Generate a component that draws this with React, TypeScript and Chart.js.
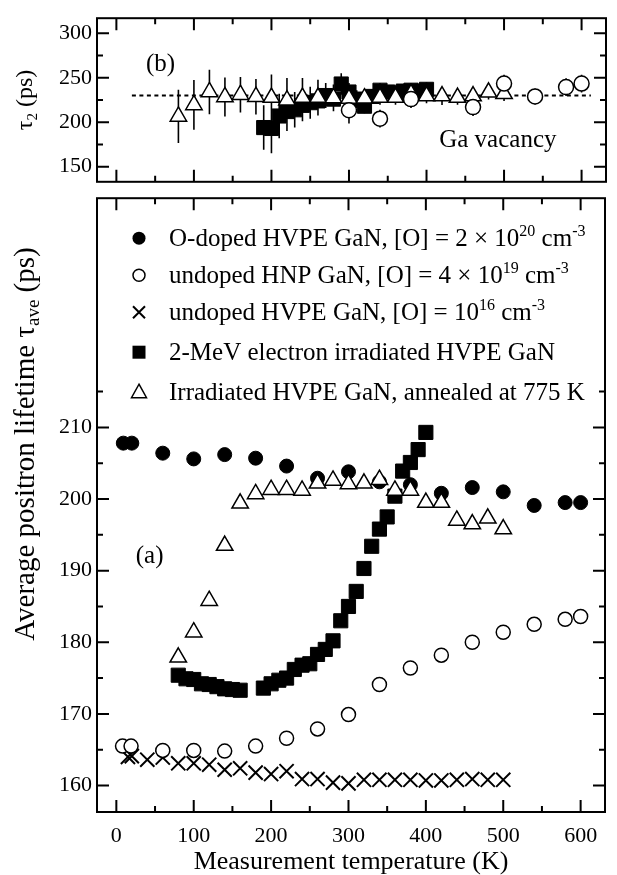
import { useEffect, useRef } from 'react';
import { Chart, registerables } from 'chart.js';

Chart.register(...registerables);

const SERIF = '"Liberation Serif", "Times New Roman", Times, serif';

// ---------- axes ----------
const X_MIN = -25;
const X_MAX = 631.5;
const X_MAJOR = [0, 100, 200, 300, 400, 500, 600];
const X_MINOR = [50, 150, 250, 350, 450, 550];

const TOP_Y_MIN = 133;
const TOP_Y_MAX = 317;
const TOP_Y_MAJOR = [150, 200, 250, 300];
const TOP_Y_MINOR = [175, 225, 275];

const BOT_Y_MIN = 156.3;
const BOT_Y_MAX = 242;
const BOT_Y_MAJOR = [160, 170, 180, 190, 200, 210];
const BOT_Y_MINOR = [165, 175, 185, 195, 205, 215];

// ---------- panel (b): tau2 ----------
const tau2TriT = [80, 100, 120, 140, 160, 180, 200, 220, 240, 260, 280, 300, 320, 340, 360, 380, 400, 420, 440, 460, 480, 500];
const tau2TriV = [206.5, 219.5, 234, 228.4, 231, 228.7, 227.7, 224.8, 227.7, 227.7, 227.3, 226.6, 227, 227.7, 227.7, 231.9, 229.4, 229.4, 227.7, 229.4, 233.7, 232];
const tau2TriE = [30, 28, 25, 22, 20, 20, 26, 25, 22, 20, 15, 12, 10, 8, 8, 8, 8, 10, 8, 8, 8, 8];

const tau2SqT = [190, 200, 210, 220, 230, 240, 250, 260, 270, 280, 290, 300, 310, 320, 330, 340, 350, 360, 370, 380, 390, 400];
const tau2SqV = [194, 193, 207, 212, 214, 219, 222, 224, 230, 226, 243, 234, 226, 218, 229, 236, 234, 233, 235, 236, 235, 237];
const tau2SqE = [25, 28, 25, 22, 20, 18, 18, 15, 14, 12, 12, 10, 10, 8, 8, 8, 8, 8, 8, 8, 8, 8];

const tau2CircT = [300, 340, 380, 460, 500, 540, 580, 600];
const tau2CircV = [213.5, 204, 226, 217, 243.5, 229, 239.5, 243.5];
const tau2CircE = [15, 10, 10, 10, 10, 9, 10, 10];

const GA_VACANCY = 230;
const GA_LINE_T = [20, 612];

// ---------- panel (a): tau_ave ----------
const oDopedT = [9, 20, 60, 100, 140, 180, 220, 260, 300, 340, 380, 420, 460, 500, 540, 580, 600];
const oDopedV = [207.8, 207.8, 206.4, 205.6, 206.2, 205.7, 204.6, 202.9, 203.8, 202.4, 202.0, 200.8, 201.6, 201.0, 199.1, 199.5, 199.5];

const hnpT = [8, 19, 60, 100, 140, 180, 220, 260, 300, 340, 380, 420, 460, 500, 540, 580, 600];
const hnpV = [165.5, 165.5, 164.9, 164.9, 164.8, 165.5, 166.6, 167.9, 169.9, 174.1, 176.4, 178.2, 180.0, 181.4, 182.5, 183.2, 183.6];

const hvpeT = [15, 20, 40, 60, 80, 100, 120, 140, 160, 180, 200, 220, 240, 260, 280, 300, 320, 340, 360, 380, 400, 420, 440, 460, 480, 500];
const hvpeV = [164.0, 164.1, 163.6, 163.9, 163.1, 163.1, 162.9, 162.2, 162.4, 161.8, 161.6, 162.0, 160.9, 160.9, 160.4, 160.3, 160.8, 160.8, 160.8, 160.8, 160.7, 160.7, 160.8, 160.9, 160.8, 160.8];

const irrT = [80, 90, 100, 110, 120, 130, 140, 150, 160, 190, 200, 210, 220, 230, 240, 250, 260, 270, 280, 290, 300, 310, 320, 330, 340, 350, 360, 370, 380, 390, 400];
const irrV = [175.4, 174.9, 174.8, 174.2, 174.1, 173.8, 173.5, 173.4, 173.3, 173.6, 174.2, 174.7, 175.0, 176.2, 176.8, 177.0, 178.3, 179.0, 180.2, 183.0, 185.0, 187.1, 190.3, 193.4, 195.8, 197.5, 200.4, 203.9, 205.1, 206.9, 209.3];

const annT = [80, 100, 120, 140, 160, 180, 200, 220, 240, 260, 280, 300, 320, 340, 360, 380, 400, 420, 440, 460, 480, 500];
const annV = [177.9, 181.4, 185.8, 193.5, 199.4, 200.7, 201.3, 201.3, 201.2, 202.2, 202.6, 202.1, 202.2, 202.7, 201.2, 201.2, 199.5, 199.5, 197.0, 196.5, 197.3, 195.8];

// ---------- texts ----------
type Piece = { t: string; s?: 'sup' | 'sub' };

const LEGEND_ITEMS: { marker: string; pieces: Piece[] }[] = [
  { marker: 'filledCircle', pieces: [{ t: 'O-doped HVPE GaN, [O] = 2 \u00d7 10' }, { t: '20', s: 'sup' }, { t: ' cm' }, { t: '-3', s: 'sup' }] },
  { marker: 'openCircle', pieces: [{ t: 'undoped HNP GaN, [O] = 4 \u00d7 10' }, { t: '19', s: 'sup' }, { t: ' cm' }, { t: '-3', s: 'sup' }] },
  { marker: 'cross', pieces: [{ t: 'undoped HVPE GaN, [O] = 10' }, { t: '16', s: 'sup' }, { t: ' cm' }, { t: '-3', s: 'sup' }] },
  { marker: 'square', pieces: [{ t: '2-MeV electron irradiated HVPE GaN' }] },
  { marker: 'triangle', pieces: [{ t: 'Irradiated HVPE GaN, annealed at 775 K' }] },
];
const LEGEND_ROW_OFFSETS = [40, 77, 114, 154, 194];

const TOP_Y_TITLE: Piece[] = [{ t: '\u03c4' }, { t: '2', s: 'sub' }, { t: ' (ps)' }];
const BOT_Y_TITLE: Piece[] = [{ t: 'Average positron lifetime \u03c4' }, { t: 'ave', s: 'sub' }, { t: ' (ps)' }];
const X_TITLE = 'Measurement temperature (K)';

// ---------- helpers ----------
const pts = (xs: number[], ys: number[]) => xs.map((x, i) => ({ x, y: ys[i] }));

function drawPieces(ctx: CanvasRenderingContext2D, pieces: Piece[], x: number, y: number, size: number, align: 'left' | 'center', rotate = false) {
  ctx.save();
  ctx.translate(x, y);
  if (rotate) ctx.rotate(-Math.PI / 2);
  const main = `${size}px ${SERIF}`;
  const small = `${Math.round(size * 0.64)}px ${SERIF}`;
  let total = 0;
  const widths = pieces.map((p) => {
    ctx.font = p.s ? small : main;
    const w = ctx.measureText(p.t).width;
    total += w;
    return w;
  });
  let cx = align === 'center' ? -total / 2 : 0;
  ctx.fillStyle = '#000';
  ctx.textBaseline = 'alphabetic';
  ctx.textAlign = 'left';
  pieces.forEach((p, i) => {
    ctx.font = p.s ? small : main;
    const dy = p.s === 'sup' ? -size * 0.42 : p.s === 'sub' ? size * 0.2 : 0;
    ctx.fillText(p.t, cx, size * 0.33 + dy);
    cx += widths[i];
  });
  ctx.restore();
}

function drawMarker(ctx: CanvasRenderingContext2D, kind: string, x: number, y: number) {
  ctx.save();
  ctx.strokeStyle = '#000';
  ctx.fillStyle = '#000';
  ctx.lineWidth = 1.5;
  ctx.beginPath();
  if (kind === 'filledCircle') {
    ctx.arc(x, y, 6.5, 0, Math.PI * 2);
    ctx.fill();
  } else if (kind === 'openCircle') {
    ctx.arc(x, y, 6, 0, Math.PI * 2);
    ctx.stroke();
  } else if (kind === 'cross') {
    ctx.lineWidth = 2;
    ctx.moveTo(x - 6, y - 6);
    ctx.lineTo(x + 6, y + 6);
    ctx.moveTo(x + 6, y - 6);
    ctx.lineTo(x - 6, y + 6);
    ctx.stroke();
  } else if (kind === 'square') {
    ctx.fillRect(x - 6.5, y - 6.5, 13, 13);
  } else if (kind === 'triangle') {
    ctx.moveTo(x, y - 8);
    ctx.lineTo(x + 7.5, y + 5.5);
    ctx.lineTo(x - 7.5, y + 5.5);
    ctx.closePath();
    ctx.stroke();
  }
  ctx.restore();
}

function framePlugin(yMajor: number[], yMinor: number[]) {
  return {
    id: 'frameTicks',
    afterDraw(chart: any) {
      const { ctx, chartArea } = chart;
      const { left, right, top, bottom } = chartArea;
      const xs = chart.scales.x;
      const ys = chart.scales.y;
      ctx.save();
      ctx.strokeStyle = '#000';
      ctx.lineWidth = 2;
      ctx.beginPath();
      const vt = (px: number, len: number) => {
        ctx.moveTo(px, top);
        ctx.lineTo(px, top + len);
        ctx.moveTo(px, bottom);
        ctx.lineTo(px, bottom - len);
      };
      X_MAJOR.forEach((v) => vt(xs.getPixelForValue(v), 12));
      X_MINOR.forEach((v) => vt(xs.getPixelForValue(v), 6));
      const ht = (py: number, len: number) => {
        if (py < top - 1 || py > bottom + 1) return;
        ctx.moveTo(left, py);
        ctx.lineTo(left + len, py);
        ctx.moveTo(right, py);
        ctx.lineTo(right - len, py);
      };
      yMajor.forEach((v) => ht(ys.getPixelForValue(v), 12));
      yMinor.forEach((v) => ht(ys.getPixelForValue(v), 6));
      ctx.stroke();
      ctx.strokeRect(left, top, right - left, bottom - top);
      ctx.restore();
    },
  };
}

const errorBarPlugin = {
  id: 'errorBars',
  beforeDatasetsDraw(chart: any) {
    const { ctx } = chart;
    const xs = chart.scales.x;
    const ys = chart.scales.y;
    ctx.save();
    ctx.strokeStyle = '#000';
    ctx.lineWidth = 1.6;
    ctx.beginPath();
    chart.data.datasets.forEach((ds: any) => {
      if (!ds.errors) return;
      ds.data.forEach((p: any, i: number) => {
        const e = ds.errors[i];
        const px = xs.getPixelForValue(p.x);
        ctx.moveTo(px, ys.getPixelForValue(p.y - e));
        ctx.lineTo(px, ys.getPixelForValue(p.y + e));
      });
    });
    ctx.stroke();
    ctx.restore();
  },
};

function textPlugin(id: string, draw: (chart: any) => void) {
  return { id, afterDraw: draw };
}

const fixedY = (ticks: number[]) => ({
  afterBuildTicks: (s: any) => {
    s.ticks = ticks.map((value) => ({ value }));
  },
  afterFit: (s: any) => {
    s.width = 97;
  },
  grid: { display: false, drawTicks: false },
  border: { display: false },
  ticks: { padding: 5, color: '#000', font: { family: SERIF, size: 22 } },
});

export default function App() {
  const topRef = useRef<HTMLCanvasElement>(null);
  const botRef = useRef<HTMLCanvasElement>(null);

  useEffect(() => {
    const open = { backgroundColor: '#fff', borderColor: '#000', borderWidth: 1.5 };
    const filled = { backgroundColor: '#000', borderColor: '#000', borderWidth: 1 };

    const top = new Chart(topRef.current as HTMLCanvasElement, {
      type: 'scatter',
      data: {
        datasets: [
          { label: 'HNP', data: pts(tau2CircT, tau2CircV), errors: tau2CircE, pointStyle: 'circle', radius: 7.5, order: 0, ...open } as any,
          { label: 'annealed', data: pts(tau2TriT, tau2TriV), errors: tau2TriE, pointStyle: 'triangle', radius: 9.5, order: 1, ...open } as any,
          { label: 'irradiated', data: pts(tau2SqT, tau2SqV), errors: tau2SqE, pointStyle: 'rect', radius: 10, order: 2, ...filled } as any,
          {
            label: 'Ga vacancy',
            data: GA_LINE_T.map((x) => ({ x, y: GA_VACANCY })),
            showLine: true,
            borderColor: '#000',
            borderWidth: 2,
            borderDash: [4, 3.5],
            pointRadius: 0,
            order: 3,
          } as any,
        ],
      },
      options: {
        animation: false,
        responsive: false,
        devicePixelRatio: 1,
        layout: { padding: { left: 0, right: 0, top: 14, bottom: 13 } },
        plugins: { legend: { display: false }, tooltip: { enabled: false } },
        scales: {
          x: { type: 'linear', min: X_MIN, max: X_MAX, display: false },
          y: { type: 'linear', min: TOP_Y_MIN, max: TOP_Y_MAX, ...fixedY(TOP_Y_MAJOR) } as any,
        },
      },
      plugins: [
        errorBarPlugin,
        framePlugin(TOP_Y_MAJOR, TOP_Y_MINOR),
        textPlugin('topTexts', (chart) => {
          const { ctx, scales } = chart;
          drawPieces(ctx, TOP_Y_TITLE, 24, 100, 24, 'center', true);
          drawPieces(ctx, [{ t: '(b)' }], scales.x.getPixelForValue(57), scales.y.getPixelForValue(266.5), 25, 'center');
          drawPieces(ctx, [{ t: 'Ga vacancy' }], scales.x.getPixelForValue(492), scales.y.getPixelForValue(181.6), 25, 'center');
        }),
      ],
    } as any);

    const bot = new Chart(botRef.current as HTMLCanvasElement, {
      type: 'scatter',
      data: {
        datasets: [
          { label: 'annealed', data: pts(annT, annV), pointStyle: 'triangle', radius: 9.5, order: 0, ...open } as any,
          { label: 'HNP', data: pts(hnpT, hnpV), pointStyle: 'circle', radius: 7, order: 1, ...open } as any,
          { label: 'HVPE', data: pts(hvpeT, hvpeV), pointStyle: 'crossRot', radius: 10, order: 2, borderColor: '#000', borderWidth: 2 } as any,
          { label: 'O-doped', data: pts(oDopedT, oDopedV), pointStyle: 'circle', radius: 7, order: 3, ...filled } as any,
          { label: 'irradiated', data: pts(irrT, irrV), pointStyle: 'rect', radius: 10, order: 4, ...filled } as any,
        ],
      },
      options: {
        animation: false,
        responsive: false,
        devicePixelRatio: 1,
        layout: { padding: { left: 0, right: 0, top: 7, bottom: 0 } },
        plugins: { legend: { display: false }, tooltip: { enabled: false } },
        scales: {
          x: {
            type: 'linear',
            min: X_MIN,
            max: X_MAX,
            afterBuildTicks: (s: any) => {
              s.ticks = X_MAJOR.map((value) => ({ value }));
            },
            afterFit: (s: any) => {
              s.height = 63;
            },
            grid: { display: false, drawTicks: false },
            border: { display: false },
            ticks: { padding: 11, autoSkip: false, maxRotation: 0, color: '#000', font: { family: SERIF, size: 22 } },
          },
          y: { type: 'linear', min: BOT_Y_MIN, max: BOT_Y_MAX, ...fixedY(BOT_Y_MAJOR) } as any,
        },
      },
      plugins: [
        framePlugin(BOT_Y_MAJOR, BOT_Y_MINOR),
        textPlugin('botTexts', (chart) => {
          const { ctx, scales, chartArea } = chart;
          drawPieces(ctx, BOT_Y_TITLE, 24, 264, 29, 'center', true);
          drawPieces(ctx, [{ t: X_TITLE }], (chartArea.left + chartArea.right) / 2, 680, 26, 'center');
          drawPieces(ctx, [{ t: '(a)' }], scales.x.getPixelForValue(43), scales.y.getPixelForValue(192.2), 25, 'center');
          LEGEND_ITEMS.forEach((item, i) => {
            const y = chartArea.top + LEGEND_ROW_OFFSETS[i];
            drawMarker(ctx, item.marker, chartArea.left + 42, y);
            drawPieces(ctx, item.pieces, chartArea.left + 72, y, 25, 'left');
          });
        }),
      ],
    } as any);

    return () => {
      top.destroy();
      bot.destroy();
    };
  }, []);

  return (
    <div style={{ position: 'absolute', left: 0, top: 0, width: 617, height: 875, background: '#fff' }}>
      <canvas ref={topRef} width={617} height={200} style={{ position: 'absolute', left: 0, top: 0 }} />
      <canvas ref={botRef} width={617} height={695} style={{ position: 'absolute', left: 0, top: 180 }} />
    </div>
  );
}
